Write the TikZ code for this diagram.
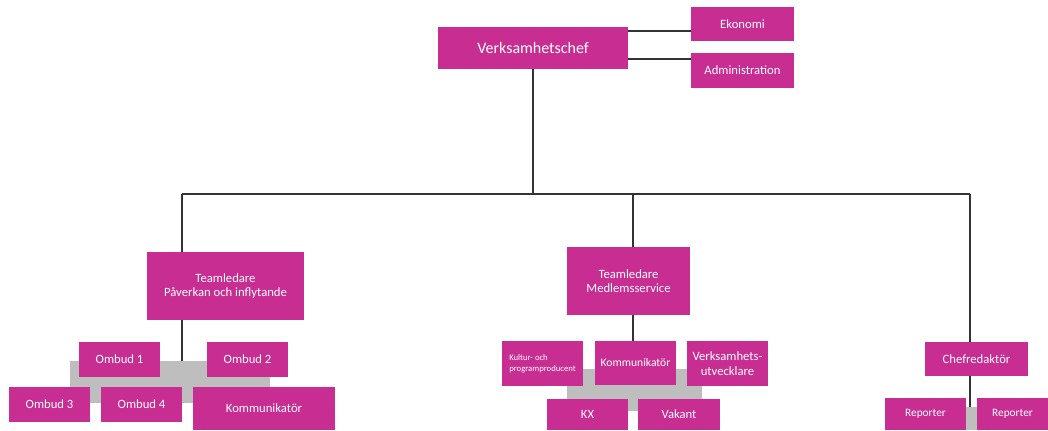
\documentclass[tikz,border=0pt]{standalone}
\usepackage{fontspec}
\setmainfont{Carlito}
\definecolor{orgpink}{RGB}{200,45,145}
\definecolor{orggrey}{RGB}{190,190,190}
\definecolor{orgline}{RGB}{51,51,51}
\begin{document}
\begin{tikzpicture}[x=0.75pt,y=-0.75pt,
  every node/.style={fill=orgpink, text=white, inner sep=0pt, outer sep=0pt, align=center, font=\fontsize{9.5}{11}\selectfont},
  box/.style 2 args={minimum width=#1*0.75pt, minimum height=#2*0.75pt},
  conn/.style={draw=orgline, line width=1.5pt}]
\useasboundingbox (0,0) rectangle (1048,430);
% grey backgrounds of the groups
\fill[orggrey] (70,361) rectangle (270,403);
\fill[orggrey] (567,369) rectangle (702,411);
\fill[orggrey] (966,407) rectangle (977,430);
% top
\node[box={190}{42}, font=\fontsize{12}{14}\selectfont] (chef) at (533,48) {Verksamhetschef};
\node[box={103}{34}] (ekonomi) at (742.5,24) {Ekonomi};
\node[box={103}{35}] (admin) at (742.5,70.5) {Administration};
% team leaders
\node[box={157}{68}] (teamP) at (225.5,286) {Teamledare\\Påverkan och inflytande};
\node[box={123}{68}] (teamM) at (628.5,281) {Teamledare\\Medlemsservice};
% left group
\node[box={81}{35}] (ombud1) at (119.5,359.5) {Ombud 1};
\node[box={81}{35}] (ombud2) at (247.5,359.5) {Ombud 2};
\node[box={81}{35}] (ombud3) at (49.5,404.5) {Ombud 3};
\node[box={81}{35}] (ombud4) at (141.5,404.5) {Ombud 4};
\node[box={142}{43}] (kommL) at (264,408.5) {Kommunikatör};
% middle group
\node[box={81}{45}, align=left, font=\fontsize{6.5}{8}\selectfont] (kultur) at (542.5,363.5) {Kultur- och\\programproducent};
\node[box={81}{44}, font=\fontsize{8.7}{10}\selectfont] (kommM) at (635.5,363) {Kommunikatör};
\node[box={81}{45}] (utv) at (727.5,363.5) {Verksamhets-\\utvecklare};
\node[box={81}{31}] (kx) at (587.5,414.5) {KX};
\node[box={82}{31}] (vakant) at (679,414.5) {Vakant};
% right group
\node[box={103}{34}] (chefred) at (976.5,359) {Chefredaktör};
\node[box={81}{32}, font=\fontsize{8.5}{10}\selectfont] (rep1) at (925.5,414) {Reporter};
\node[box={71}{32}, font=\fontsize{8.5}{10}\selectfont] (rep2) at (1012.5,414) {Reporter};
% connectors
\coordinate (ekoL) at (628,31);
\coordinate (admL) at (628,59);
\coordinate (busL) at (182,194);
\coordinate (busM) at (633,194);
\coordinate (busR) at (970,194);
\coordinate (barL) at (182,361);
\coordinate (barR) at (970,407);
\draw[conn] (ekoL) -- (ekoL -| ekonomi.west);
\draw[conn] (admL) -- (admL -| admin.west);
\draw[conn] (chef.south) -- (chef.south |- busL);
\draw[conn] (busL) -- (busR);
\draw[conn] (busL) -- (busL |- teamP.north);
\draw[conn] (busM) -- (busM |- teamM.north);
\draw[conn] (busR) -- (busR |- chefred.north);
\draw[conn] (busL |- teamP.south) -- (barL);
\draw[conn] (busM |- teamM.south) -- (busM |- kommM.north);
\draw[conn] (busR |- chefred.south) -- (barR);
\end{tikzpicture}
\end{document}
